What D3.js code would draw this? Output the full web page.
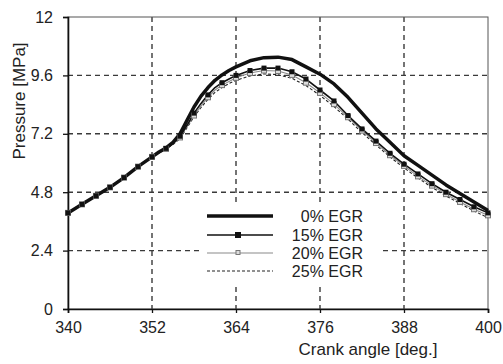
<!DOCTYPE html>
<html>
<head>
<meta charset="utf-8">
<script src="https://cdn.jsdelivr.net/npm/d3@7"></script>
<style>
  body { margin: 0; background: #fff; }
  text { font-family: "Liberation Sans", Arial, Helvetica, sans-serif; fill: #222; }
</style>
</head>
<body>
<div id="plot"></div>
<script>
const angle = [340,342,344,346,348,350,352,353,354,355,356,357,358,359,360,361,362,363,364,366,368,370,372,374,376,378,380,382,384,386,388,390,392,394,396,398,400];
const egr0  = [3.95,4.3,4.65,5.0,5.4,5.85,6.25,6.45,6.62,6.85,7.2,7.75,8.3,8.75,9.1,9.4,9.62,9.8,9.95,10.2,10.33,10.35,10.25,9.95,9.65,9.25,8.7,8.05,7.4,6.85,6.3,5.9,5.5,5.1,4.75,4.4,4.05];
const egr15 = [3.95,4.3,4.65,5.0,5.4,5.85,6.25,6.43,6.6,6.8,7.1,7.55,8.05,8.45,8.8,9.1,9.3,9.45,9.6,9.8,9.9,9.9,9.75,9.45,9.0,8.55,7.95,7.4,6.9,6.4,5.95,5.55,5.15,4.8,4.5,4.2,3.95];
const egr20 = [3.95,4.3,4.65,5.0,5.4,5.85,6.25,6.42,6.58,6.78,7.05,7.5,7.95,8.35,8.7,9.0,9.2,9.35,9.5,9.7,9.8,9.78,9.62,9.3,8.88,8.42,7.88,7.33,6.82,6.32,5.88,5.45,5.07,4.72,4.4,4.1,3.85];
const egr25 = [3.95,4.3,4.65,5.0,5.4,5.85,6.25,6.42,6.57,6.76,7.0,7.45,7.9,8.28,8.62,8.9,9.1,9.27,9.4,9.58,9.66,9.63,9.48,9.18,8.78,8.32,7.8,7.25,6.74,6.25,5.8,5.38,5.0,4.65,4.33,4.03,3.75];
const xTicks = [340,352,364,376,388,400];
const yTicks = [0,2.4,4.8,7.2,9.6,12];
const seriesNames = ["0% EGR","15% EGR","20% EGR","25% EGR"];

const margin = {top: 17, right: 15, bottom: 55, left: 68},
      width = 503 - margin.left - margin.right,
      height = 364 - margin.top - margin.bottom;

const svg = d3.select("#plot")
  .append("svg")
    .attr("width", 503)
    .attr("height", 364)
  .append("g")
    .attr("transform", `translate(${margin.left},${margin.top})`);

const x = d3.scaleLinear().domain([340, 400]).range([0, width]);
const y = d3.scaleLinear().domain([0, 12]).range([height, 0]);

// grid
svg.append("g").selectAll("line")
  .data(xTicks.slice(1, -1))
  .join("line")
    .attr("x1", d => x(d)).attr("x2", d => x(d))
    .attr("y1", 0).attr("y2", height)
    .attr("stroke", "#3a3a3a").attr("stroke-width", 1.4)
    .attr("stroke-dasharray", "5,4");
svg.append("g").selectAll("line")
  .data(yTicks.slice(1, -1))
  .join("line")
    .attr("x1", 0).attr("x2", width)
    .attr("y1", d => y(d)).attr("y2", d => y(d))
    .attr("stroke", "#3a3a3a").attr("stroke-width", 1.4)
    .attr("stroke-dasharray", "5,4");

// box
svg.append("rect")
  .attr("width", width).attr("height", height)
  .attr("fill", "none").attr("stroke", "#555").attr("stroke-width", 1);

const xAxis = svg.append("g")
  .attr("transform", `translate(0,${height})`)
  .call(d3.axisBottom(x).tickValues(xTicks).tickSize(4).tickPadding(9));
const yAxis = svg.append("g")
  .call(d3.axisLeft(y).tickValues(yTicks).tickSize(5).tickPadding(10).tickFormat(d3.format("")));
[xAxis, yAxis].forEach(a => {
  a.select(".domain").attr("stroke", "#111").attr("stroke-width", 1.6);
  a.selectAll(".tick line").attr("stroke", "#111").attr("stroke-width", 1.3);
  a.selectAll("text").style("font-size", "16px").style("font-family", "'Liberation Sans', Arial, sans-serif").attr("fill", "#222");
});

svg.append("text")
  .attr("x", width - 120).attr("y", height + 46)
  .attr("text-anchor", "middle")
  .style("font-size", "17px")
  .text("Crank angle [deg.]");
svg.append("text")
  .attr("transform", `translate(${-43},${84}) rotate(-90)`)
  .attr("text-anchor", "middle")
  .style("font-size", "17px")
  .text("Pressure [MPa]");

const data = angle.map((a, i) => ({a, v: [egr0[i], egr15[i], egr20[i], egr25[i]]}));
const styles = [
  {stroke: "#111", width: 3.5, dash: null},
  {stroke: "#111", width: 1.6, dash: null},
  {stroke: "#8a8a8a", width: 1.1, dash: null},
  {stroke: "#222", width: 1.1, dash: "3,2"}
];

const lines = svg.append("g");
[3, 2, 1, 0].forEach(k => {
  lines.append("path")
    .datum(data)
    .attr("fill", "none")
    .attr("stroke", styles[k].stroke)
    .attr("stroke-width", styles[k].width)
    .attr("stroke-dasharray", styles[k].dash)
    .attr("stroke-linejoin", "round")
    .attr("d", d3.line().x(d => x(d.a)).y(d => y(d.v[k])));
});

// markers
const markPts = data.filter(d => d.a % 2 === 0);
lines.append("g").selectAll("rect")
  .data(markPts)
  .join("rect")
    .attr("x", d => x(d.a) - 2.5).attr("y", d => y(d.v[2]) - 2.5)
    .attr("width", 5).attr("height", 5)
    .attr("fill", "#ddd").attr("stroke", "#777").attr("stroke-width", 1);
lines.append("g").selectAll("rect")
  .data(markPts)
  .join("rect")
    .attr("x", d => x(d.a) - 2.5).attr("y", d => y(d.v[1]) - 2.5)
    .attr("width", 5).attr("height", 5)
    .attr("fill", "#111");

// legend
const lg = svg.append("g").attr("transform", `translate(${202 - margin.left},${206 - margin.top})`);
lg.append("rect").attr("width", 180).attr("height", 80).attr("fill", "#fff");
const rowY = [10, 29, 47, 65];
seriesNames.forEach((name, k) => {
  lg.append("line")
    .attr("x1", 5).attr("x2", 71)
    .attr("y1", rowY[k]).attr("y2", rowY[k])
    .attr("stroke", styles[k].stroke)
    .attr("stroke-width", styles[k].width)
    .attr("stroke-dasharray", styles[k].dash);
  lg.append("text")
    .attr("x", 161).attr("y", rowY[k])
    .attr("dy", "0.36em")
    .attr("text-anchor", "end")
    .style("font-size", "16px")
    .text(name);
});
lg.append("rect").attr("x", 33).attr("y", rowY[1] - 3).attr("width", 6).attr("height", 6).attr("fill", "#111");
lg.append("rect").attr("x", 34).attr("y", rowY[2] - 2.5).attr("width", 4).attr("height", 4)
  .attr("fill", "#ddd").attr("stroke", "#777").attr("stroke-width", 1);
</script>
</body>
</html>
